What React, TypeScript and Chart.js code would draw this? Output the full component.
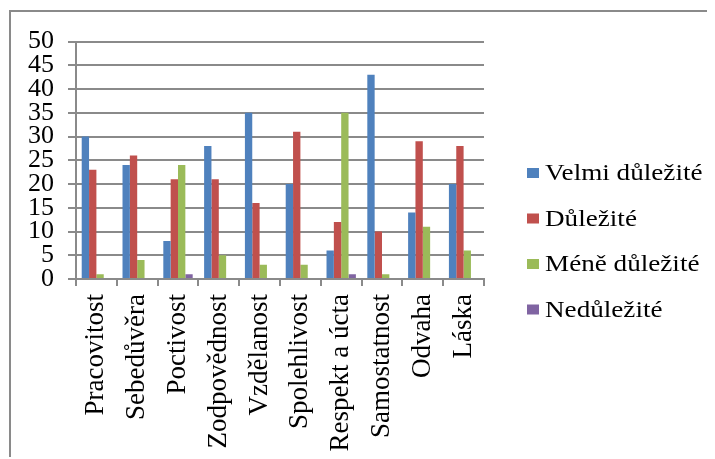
import React, { useEffect, useRef } from "react";
import { Chart, registerables } from "chart.js";

Chart.register(...registerables);

const categories = [
  "Pracovitost",
  "Sebedůvěra",
  "Poctivost",
  "Zodpovědnost",
  "Vzdělanost",
  "Spolehlivost",
  "Respekt a úcta",
  "Samostatnost",
  "Odvaha",
  "Láska",
];
const seriesNames = ["Velmi důležité", "Důležité", "Méně důležité", "Nedůležité"];
const velmiDulezite = [30, 24, 8, 28, 35, 20, 6, 43, 14, 20];
const dulezite = [23, 26, 21, 21, 16, 31, 12, 10, 29, 28];
const meneDulezite = [1, 4, 24, 5, 3, 3, 35, 1, 11, 6];
const nedulezite = [0, 0, 1, 0, 0, 0, 1, 0, 0, 0];
const seriesColors = ["#4F81BD", "#C0504D", "#9BBB59", "#8064A2"];
const yMin = 0;
const yMax = 50;
const yStep = 5;

const FONT = '"Liberation Serif", "Times New Roman", serif';
const GRID = "#8a8a8a";

const legendPlugin = {
  id: "customLegend",
  afterDraw(chart: any) {
    const ctx = chart.ctx;
    const x0 = 516;
    const y0 = 161;
    const gap = 45.5;
    ctx.save();
    ctx.font = `23px ${FONT}`;
    ctx.textBaseline = "middle";
    ctx.textAlign = "left";
    chart.data.datasets.forEach((ds: any, i: number) => {
      const cy = y0 + i * gap;
      ctx.fillStyle = ds.backgroundColor;
      ctx.fillRect(x0, cy - 5, 12, 10);
      ctx.fillStyle = "#000";
      ctx.save();
      ctx.translate(x0 + 18, cy + 1);
      ctx.scale(1.18, 1);
      ctx.fillText(ds.label, 0, 0);
      ctx.restore();
    });
    ctx.restore();
  },
};

export default function App() {
  const ref = useRef<HTMLCanvasElement>(null);
  useEffect(() => {
    if (!ref.current) return;
    const data = [velmiDulezite, dulezite, meneDulezite, nedulezite];
    const chart = new Chart(ref.current, {
      type: "bar",
      data: {
        labels: categories,
        datasets: seriesNames.map((name, i) => ({
          label: name,
          data: data[i],
          backgroundColor: seriesColors[i],
          borderWidth: 0,
          categoryPercentage: 0.72,
          barPercentage: 1,
        })),
      },
      options: {
        animation: false,
        responsive: false,
        maintainAspectRatio: false,
        layout: { padding: { left: 0, top: 28, right: 227, bottom: 0 } },
        plugins: {
          legend: { display: false },
          tooltip: { enabled: false },
          title: { display: false },
        },
        scales: {
          x: {
            grid: {
              offset: true,
              drawOnChartArea: false,
              drawTicks: true,
              tickLength: 7,
              color: GRID,
              lineWidth: 2,
            },
            border: { color: GRID, width: 2 },
            ticks: {
              color: "#000",
              font: { family: FONT, size: 27 },
              maxRotation: 90,
              minRotation: 90,
              padding: 8,
              autoSkip: false,
            },
            afterFit: (s: any) => {
              s.height = 178;
            },
          },
          y: {
            min: yMin,
            max: yMax,
            grid: {
              color: GRID,
              lineWidth: 2,
              drawTicks: true,
              tickLength: 8,
            },
            border: { color: GRID, width: 2 },
            ticks: {
              stepSize: yStep,
              color: "#000",
              font: { family: FONT, size: 26 },
              padding: 14,
              autoSkip: false,
            },
            afterFit: (s: any) => {
              s.width = 65;
            },
          },
        },
      },
      plugins: [legendPlugin],
    });
    return () => chart.destroy();
  }, []);
  return (
    <div
      style={{
        marginLeft: 1,
        marginTop: 2,
        borderTop: "2px solid #8a8a8a",
        borderLeft: "2px solid #8a8a8a",
        width: 700,
        height: 445,
        background: "#fff",
      }}
    >
      <canvas ref={ref} width={700} height={445} style={{ display: "block" }} />
    </div>
  );
}
